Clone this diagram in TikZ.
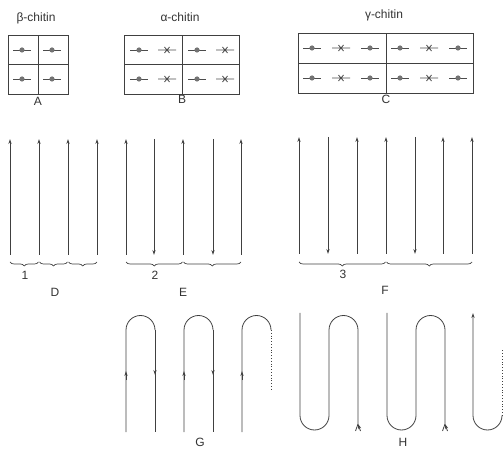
\documentclass[tikz,border=0pt]{standalone}
\usepackage{fontspec}
\setmainfont{Liberation Sans}
\usepackage{tikz}
\usetikzlibrary{arrows.meta,decorations.pathreplacing}
\tikzset{
  cellbox/.style={draw=black!75, line width=0.8pt},
  chainln/.style={draw=black!75, line width=0.8pt},
  chainarr/.style={-{Stealth[length=5pt,width=3.2pt]}, draw=black!75, line width=0.8pt},
  unitln/.style={draw=black!70, line width=0.8pt},
  unitdot/.style={fill=black!55},
  bracket/.style={decorate, decoration={brace,mirror,amplitude=4pt}, draw=black!75, line width=0.7pt},
  lab/.style={font=\fontsize{12}{14}\selectfont, text=black!80, inner sep=0pt},
}
\begin{document}
\begin{tikzpicture}[x=1pt,y=1pt]
\useasboundingbox (0,0) rectangle (503,450);
\node[lab] (tbeta) at (36,432) {β-chitin};
\node[lab] (talpha) at (180,433) {α-chitin};
\node[lab] (tgamma) at (384,435) {γ-chitin};

\draw[cellbox] (8,356) rectangle (68,415) (38,356) -- (38,415) (8,385.5) -- (68,385.5);
\foreach \x in {22,52} \foreach \y in {400,371} {
  \draw[unitln] (\x-9,\y) -- (\x+9,\y);
  \fill[unitdot] (\x,\y) circle (2.6);
}
\node[lab] (pA) at (38,349) {A};

\draw[cellbox] (124,356) rectangle (239,415) (182,356) -- (182,415) (124,386) -- (239,386);
\foreach \x in {139,197} \foreach \y in {400,371} {
  \draw[unitln] (\x-9,\y) -- (\x+9,\y);
  \fill[unitdot] (\x,\y) circle (2.6);
}
\foreach \x in {167,225} \foreach \y in {400,371} {
  \draw[unitln] (\x-9,\y) -- (\x+9,\y) (\x-2.5,\y-3) -- (\x+2.5,\y+3) (\x-2.5,\y+3) -- (\x+2.5,\y-3);
}
\node[lab] (pB) at (182,351) {B};

\draw[cellbox] (298,357) rectangle (473,417) (386,357) -- (386,417) (298,387) -- (473,387);
\foreach \x in {312,370,400,458} \foreach \y in {402,372} {
  \draw[unitln] (\x-9,\y) -- (\x+9,\y);
  \fill[unitdot] (\x,\y) circle (2.6);
}
\foreach \x in {341,429} \foreach \y in {402,372} {
  \draw[unitln] (\x-9,\y) -- (\x+9,\y) (\x-2.5,\y-3) -- (\x+2.5,\y+3) (\x-2.5,\y+3) -- (\x+2.5,\y-3);
}
\node[lab] (pC) at (386,351) {C};

\foreach \x in {10,39,68,97} \draw[chainarr] (\x,195) -- (\x,311);
\draw[bracket] (10,188) -- (38.5,188);
\draw[bracket] (39.5,188) -- (67.5,188);
\draw[bracket] (68.5,188) -- (97,188);
\node[lab] (n1) at (25,175) {1};
\node[lab] (pD) at (55,158) {D};

\foreach \x in {126,183,241} \draw[chainarr] (\x,195) -- (\x,311);
\foreach \x in {154,213} \draw[chainarr] (\x,311) -- (\x,195);
\draw[bracket] (126,188) -- (182.5,188);
\draw[bracket] (183.5,188) -- (241,188);
\node[lab] (n2) at (155,175) {2};
\node[lab] (pE) at (183,158) {E};

\foreach \x in {299,357,386,443,472} \draw[chainarr] (\x,196) -- (\x,313);
\foreach \x in {328,415} \draw[chainarr] (\x,313) -- (\x,196);
\draw[bracket] (299,188) -- (385.5,188);
\draw[bracket] (386.5,188) -- (472,188);
\node[lab] (n3) at (343,176) {3};
\node[lab] (pF) at (385,160) {F};

\foreach \x in {126,184,242} \draw[chainln] (\x,18) -- (\x,120) arc[start angle=180, end angle=0, radius=14.5];
\foreach \x in {155,213} \draw[chainln] (\x,120) -- (\x,18);
\draw[chainln, dotted] (271,120) -- (271,60);
\foreach \x in {126,184,242} \draw[chainarr] (\x,70) -- (\x,79);
\foreach \x in {155,213} \draw[chainarr] (\x,84) -- (\x,75);
\node[lab] (pG) at (200,8) {G};

\draw[chainln, {Stealth[length=5pt,width=3.2pt]}-] (300,137) -- (300,34.5) arc[start angle=180, end angle=360, radius=14.5]
  -- (329,120) arc[start angle=180, end angle=0, radius=14.5] -- (358,26) -- (355.5,19) (358,26) -- (360.5,19);
\draw[chainln, {Stealth[length=5pt,width=3.2pt]}-] (387,137) -- (387,34.5) arc[start angle=180, end angle=360, radius=14.5]
  -- (416,120) arc[start angle=180, end angle=0, radius=14.5] -- (445,26) -- (442.5,19) (445,26) -- (447.5,19);
\draw[chainln, {Stealth[length=5pt,width=3.2pt]}-] (473,137) -- (473,34.5) arc[start angle=180, end angle=360, radius=14.5];
\draw[chainln, dotted] (502,34.5) -- (502,100);
\node[lab] (pH) at (403,8) {H};
\end{tikzpicture}
\end{document}
